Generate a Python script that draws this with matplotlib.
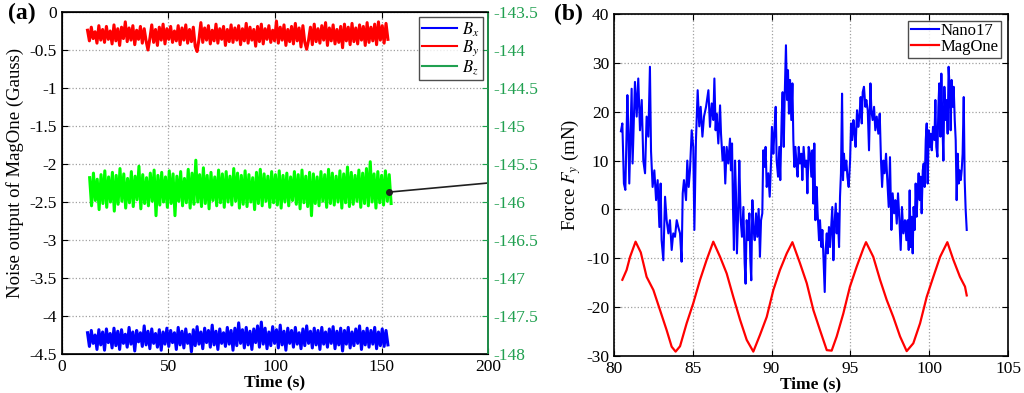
import numpy as np
import matplotlib.pyplot as plt
from matplotlib.lines import Line2D

# ---- panel (a): noise output of MagOne (Gauss), sampled uniformly in time
noise_start = 12.0
noise_end = 153.0
bz_start = 13.0
bz_end = 154.5

bx = [-4.22, -4.40, -4.19, -4.36, -4.25, -4.44, -4.18, -4.38, -4.21, -4.45, -4.17, -4.35, -4.23, -4.42, -4.16, -4.39, -4.20, -4.44, -4.18, -4.36,
      -4.24, -4.41, -4.15, -4.37, -4.21, -4.46, -4.19, -4.34, -4.22, -4.40, -4.13, -4.38, -4.20, -4.43, -4.17, -4.36, -4.23, -4.41, -4.18, -4.45,
      -4.21, -4.37, -4.16, -4.40, -4.19, -4.35, -4.22, -4.44, -4.15, -4.38, -4.20, -4.42, -4.17, -4.36, -4.24, -4.47, -4.18, -4.39, -4.14, -4.37,
      -4.21, -4.43, -4.16, -4.35, -4.19, -4.41, -4.12, -4.38, -4.20, -4.44, -4.17, -4.36, -4.22, -4.40, -4.15, -4.37, -4.19, -4.45, -4.16, -4.39,
      -4.09, -4.36, -4.18, -4.42, -4.15, -4.38, -4.20, -4.44, -4.17, -4.35, -4.13, -4.41, -4.08, -4.37, -4.16, -4.43, -4.21, -4.39, -4.14, -4.36,
      -4.18, -4.42, -4.12, -4.38, -4.20, -4.45, -4.16, -4.36, -4.19, -4.41, -4.15, -4.37, -4.22, -4.43, -4.17, -4.39, -4.13, -4.36, -4.20, -4.42,
      -4.16, -4.38, -4.19, -4.44, -4.15, -4.37, -4.21, -4.41, -4.17, -4.36, -4.14, -4.43, -4.20, -4.38, -4.16, -4.46, -4.19, -4.37, -4.15, -4.42,
      -4.21, -4.39, -4.17, -4.36, -4.13, -4.44, -4.20, -4.38, -4.16, -4.41, -4.19, -4.37, -4.15, -4.43, -4.21, -4.39, -4.17, -4.40, -4.19, -4.38]

by = [-0.24, -0.38, -0.20, -0.35, -0.26, -0.41, -0.18, -0.37, -0.23, -0.40, -0.19, -0.36, -0.25, -0.42, -0.17, -0.38, -0.22, -0.44, -0.20, -0.35,
      -0.13, -0.39, -0.21, -0.37, -0.18, -0.43, -0.24, -0.36, -0.19, -0.41, -0.22, -0.38, -0.50, -0.35, -0.17, -0.40, -0.23, -0.44, -0.20, -0.37,
      -0.16, -0.42, -0.22, -0.36, -0.19, -0.40, -0.25, -0.38, -0.18, -0.43, -0.21, -0.37, -0.17, -0.41, -0.23, -0.39, -0.20, -0.45, -0.52, -0.36,
      -0.14, -0.40, -0.21, -0.37, -0.18, -0.42, -0.24, -0.38, -0.16, -0.41, -0.22, -0.36, -0.19, -0.44, -0.23, -0.39, -0.17, -0.40, -0.21, -0.37,
      -0.18, -0.43, -0.22, -0.38, -0.15, -0.41, -0.20, -0.37, -0.23, -0.45, -0.19, -0.39, -0.16, -0.42, -0.22, -0.36, -0.18, -0.40, -0.24, -0.38,
      -0.12, -0.41, -0.20, -0.37, -0.17, -0.44, -0.23, -0.39, -0.19, -0.42, -0.15, -0.38, -0.21, -0.46, -0.18, -0.40, -0.49, -0.37, -0.20, -0.43,
      -0.16, -0.39, -0.22, -0.41, -0.18, -0.37, -0.14, -0.44, -0.21, -0.38, -0.17, -0.42, -0.23, -0.40, -0.19, -0.47, -0.16, -0.38, -0.20, -0.43,
      -0.15, -0.39, -0.21, -0.42, -0.17, -0.37, -0.19, -0.44, -0.14, -0.40, -0.20, -0.38, -0.16, -0.43, -0.13, -0.37, -0.18, -0.41, -0.15, -0.36]

bz = [-2.18, -2.55, -2.12, -2.48, -2.20, -2.60, -2.14, -2.52, -2.09, -2.57, -2.17, -2.50, -2.11, -2.62, -2.15, -2.53, -2.06, -2.49, -2.13, -2.58,
      -2.19, -2.51, -2.10, -2.56, -2.16, -2.47, -2.03, -2.59, -2.14, -2.52, -2.18, -2.55, -2.12, -2.49, -2.08, -2.68, -2.15, -2.54, -2.11, -2.50,
      -2.17, -2.57, -2.09, -2.52, -2.13, -2.68, -2.16, -2.49, -2.10, -2.55, -2.19, -2.51, -2.07, -2.58, -2.12, -2.53, -1.95, -2.50, -2.14, -2.56,
      -2.05, -2.52, -2.15, -2.59, -2.11, -2.48, -2.17, -2.55, -2.08, -2.51, -2.13, -2.57, -2.10, -2.50, -2.16, -2.54, -2.06, -2.49, -2.12, -2.58,
      -2.15, -2.53, -2.09, -2.56, -2.14, -2.50, -2.18, -2.60, -2.11, -2.52, -2.07, -2.55, -2.13, -2.49, -2.16, -2.57, -2.10, -2.51, -2.14, -2.54,
      -2.09, -2.58, -2.15, -2.50, -2.12, -2.55, -2.17, -2.48, -2.10, -2.53, -2.14, -2.59, -2.08, -2.51, -2.16, -2.56, -2.11, -2.68, -2.13, -2.52,
      -2.17, -2.55, -2.10, -2.49, -2.14, -2.57, -2.07, -2.52, -2.12, -2.54, -2.16, -2.50, -2.09, -2.58, -2.13, -2.51, -2.04, -2.56, -2.11, -2.53,
      -2.15, -2.49, -2.08, -2.57, -2.12, -2.52, -2.06, -2.55, -1.97, -2.50, -2.13, -2.58, -2.10, -2.51, -2.15, -2.54, -2.09, -2.49, -2.14, -2.52]

# Bz end point marker and where it reads on the right-hand (true value) axis
bz_mark = (153.5, -2.37)
bz_true_level = -145.75
bz_offset = -143.5  # right axis value at left axis 0

# ---- panel (b): force Fy (mN)
nano_t = [80.44, 80.53, 80.63, 80.72, 80.85, 80.91, 80.97, 81.12, 81.18, 81.33, 81.44, 81.54, 81.65, 81.76, 81.86, 81.97, 82.07, 82.18, 82.28, 82.35,
          82.45, 82.56, 82.67, 82.77, 82.88, 82.96, 83.02, 83.13, 83.24, 83.34, 83.45, 83.55, 83.66, 83.76, 83.87, 83.98, 84.08, 84.19, 84.29, 84.36,
          84.44, 84.57, 84.65, 84.74, 84.82, 84.93, 85.03, 85.10, 85.20, 85.31, 85.41, 85.50, 85.61, 85.71, 85.84, 85.99,
          86.09, 86.20, 86.30, 86.37, 86.45, 86.51, 86.62, 86.73, 86.79, 86.89, 86.98, 87.06, 87.15, 87.25, 87.36, 87.42, 87.49, 87.55, 87.61, 87.68,
          87.74, 87.80, 87.89, 87.95, 88.04, 88.12, 88.21, 88.29, 88.35, 88.42, 88.50, 88.59, 88.65, 88.71, 88.78, 88.84, 88.93, 89.01, 89.09, 89.18,
          89.26, 89.33, 89.41, 89.47, 89.54, 89.62, 89.69, 89.79, 89.88, 89.96, 90.02, 90.11, 90.17, 90.26, 90.32, 90.41, 90.49, 90.55, 90.64, 90.70,
          90.77, 90.83, 90.91, 90.98, 91.04, 91.10, 91.17, 91.25, 91.32, 91.38, 91.44, 91.51, 91.59, 91.65, 91.72, 91.80, 91.89, 91.95, 92.03, 92.12,
          92.20, 92.27, 92.35,
          92.44, 92.52, 92.59, 92.65, 92.71, 92.78, 92.86, 92.92, 93.01, 93.07, 93.16, 93.22, 93.28, 93.37, 93.43, 93.50, 93.56, 93.64, 93.71, 93.79,
          93.85, 93.92, 93.98, 94.07, 94.13, 94.19, 94.28, 94.34, 94.40, 94.47, 94.53, 94.59, 94.66, 94.74, 94.81, 94.89, 94.98, 95.04, 95.12, 95.19,
          95.27, 95.33, 95.42, 95.50, 95.57, 95.65, 95.72, 95.78, 95.86, 95.95, 96.01, 96.10, 96.18, 96.27, 96.33, 96.41, 96.50, 96.58, 96.67, 96.77,
          96.86, 96.94, 97.01, 97.09, 97.17, 97.26, 97.34, 97.43, 97.51, 97.60, 97.68, 97.77, 97.85, 97.94, 98.02, 98.11, 98.19, 98.27, 98.36,
          98.46, 98.55, 98.63, 98.70, 98.76, 98.82, 98.89, 98.95, 99.01, 99.08, 99.14, 99.20, 99.27, 99.33, 99.40, 99.46, 99.52, 99.59, 99.65, 99.71,
          99.78, 99.84, 99.90, 99.97, 100.03, 100.09, 100.16, 100.24, 100.33, 100.39, 100.45, 100.52, 100.58, 100.64, 100.71, 100.77, 100.83, 100.90, 100.96, 101.04,
          101.11, 101.17, 101.23, 101.30, 101.36, 101.42, 101.49, 101.55, 101.62, 101.68, 101.74, 101.81, 101.87, 101.93, 102.00, 102.06, 102.12, 102.19, 102.25, 102.31,
          102.38]
nano_f = [16.0, 17.6, 5.3, 4.0, 23.4, 16.2, 5.3, 24.7, 9.4, 26.1, 19.0, 26.8, 16.2, 22.4, 10.0, 7.4, 19.0, 14.9, 29.2, 11.9,
          4.6, 8.0, 1.9, 6.0, -3.6, 5.3, -6.3, -10.4, 2.6, -2.2, -4.9, -2.2, -8.3, -4.9, -5.6, -2.2, -3.6, -4.9, -10.7, 3.3,
          6.0, 1.9, 10.0, 4.6, 8.0, 16.2, 12.8, -4.2, 14.2, 24.4, 17.0, 21.0, 14.9, 19.0, 21.0, 24.4,
          16.9, 21.7, 18.3, 26.8, 16.2, 19.6, 13.5, 21.3, 15.5, 10.0, 12.8, 5.3, 12.8, 9.4, 14.5, 8.0, 13.5, 0.5, -8.3, 10.0,
          3.3, -9.0, 0.5, 10.0, -2.2, -5.6, 0.5, -11.0, -15.2, -2.2, -6.3, -0.8, -10.4, -14.5, 1.9, -3.6, -6.3, -0.8, -5.6, 0.1,
          -9.7, -2.2, -0.8, 12.1, 8.7, 12.8, 4.6, 7.4, 2.6, 9.4, 16.9, 11.4, 15.5, 21.0, 10.0, 6.7, 12.8, 6.0, 19.0, 24.0,
          12.8, 23.0, 33.6, 22.4, 28.5, 19.6, 26.5, 18.3, 25.8, 14.2, 8.7, 12.8, 8.7, 6.7, 12.8, 9.4, 11.4, 6.0, 12.8, 8.7,
          10.0, 3.3, 12.8,
          11.4, 6.7, 12.1, 1.2, 13.5, -2.2, 4.6, -0.8, -6.3, -2.2, -7.7, -4.2, -9.0, -16.9, -8.3, -4.9, -9.0, -3.6, -7.7, -2.9,
          0.5, -10.4, -3.6, 1.2, -4.9, -0.8, -7.7, 2.6, 7.4, 23.7, 6.0, 11.4, 8.0, 10.0, 6.7, 4.6, 10.0, 17.6, 14.2, 18.3,
          15.5, 12.8, 20.3, 16.9, 19.0, 23.0, 17.6, 24.0, 25.1, 21.0, 22.4, 20.3, 12.1, 25.8, 20.3, 18.3, 21.0, 16.2, 19.0, 15.5,
          19.6, 10.0, 4.6, 10.0, 7.4, 11.4, 6.0, 0.5, 10.7, -4.2, 3.3, -0.8, 1.9, -2.9, 3.3, -2.2, -8.3, 0.5, -4.9,
          -2.2, -6.3, -2.2, -8.3, 3.9, -7.7, -1.5, -9.0, 0.5, -4.2, 5.3, -1.5, 3.9, 7.4, 1.9, 6.7, -0.8, 8.0, 9.4, 4.6,
          14.2, 17.6, 5.3, 16.2, 12.8, 15.5, 12.1, 16.9, 14.2, 22.4, 12.8, 10.8, 21.0, 25.8, 14.9, 27.8, 18.3, 10.0, 25.1, 18.3,
          22.4, 15.5, 29.2, 24.4, 16.2, 26.5, 21.0, 25.1, 18.3, 14.2, 1.9, 11.4, 5.3, 8.0, 6.0, 8.0, 11.4, 23.0, 6.0, 0.1,
          -4.2]

mag_t = [80.53, 80.80, 81.02, 81.37, 81.70, 82.07, 82.50, 82.92, 83.34, 83.66, 83.91, 84.19, 84.61, 85.03, 85.46, 85.88, 86.30,
         86.73, 87.15, 87.57, 88.00, 88.42, 88.84, 89.26, 89.69, 90.11, 90.53, 90.96, 91.32, 91.80, 92.23, 92.65, 93.07, 93.50,
         93.81, 94.13, 94.55, 94.97, 95.40, 95.82, 95.99, 96.45, 96.88, 97.30, 97.72, 98.15, 98.57, 98.99, 99.42, 99.84, 100.26,
         100.69, 101.15, 101.53, 101.95, 102.27, 102.38]
mag_f = [-14.4, -12.4, -9.7, -6.6, -8.8, -13.8, -16.5, -20.6, -24.7, -28.1, -29.1, -28.0, -23.3, -19.2, -14.4, -10.3, -6.6,
         -9.7, -13.1, -17.9, -22.6, -26.7, -29.1, -25.7, -22.0, -16.5, -12.4, -9.0, -6.7, -11.0, -15.1, -20.6, -24.7, -28.8,
         -28.9, -26.0, -21.3, -15.8, -11.7, -8.0, -6.7, -9.7, -14.4, -18.5, -22.0, -26.0, -29.0, -27.4, -23.3, -17.9, -13.8,
         -9.7, -6.7, -10.3, -13.8, -15.8, -17.6]

green = '#20a050'

plt.rcParams['font.family'] = ['Liberation Serif', 'DejaVu Serif']
plt.rcParams['mathtext.fontset'] = 'stix'
plt.rcParams['axes.unicode_minus'] = False

fig = plt.figure(figsize=(10.24, 3.93), dpi=100)

# ---------------- (a)
ax1 = fig.add_axes([0.0605, 0.0992, 0.4161, 0.8703])
t_noise = np.linspace(noise_start, noise_end, len(bx))
t_bz = np.linspace(bz_start, bz_end, len(bz))
ax1.plot(t_noise, bx, color='#0000ff', lw=2.2)
ax1.plot(t_noise, by, color='#ff0000', lw=2.2)
ax1.plot(t_bz, bz, color='#00ff00', lw=2.2)

ax1.set_xlim(0, 200)
ax1.set_ylim(-4.5, 0)
ax1.set_xticks(np.arange(0, 201, 50))
ax1.set_yticks(np.arange(-4.5, 0.01, 0.5))
ax1.set_yticklabels(['%g' % v for v in np.arange(-4.5, 0.01, 0.5)])
ax1.grid(True, linestyle=':', color='#a0a0a0', lw=0.9)
ax1.tick_params(direction='in', top=True, right=False, labelsize=12.5, length=4)
ax1.set_xlabel('Time (s)', fontsize=12.5, fontweight='bold', labelpad=0)
ax1.set_ylabel('Noise output of MagOne (Gauss)', fontsize=13.5)
ax1.yaxis.set_label_coords(-0.088, 0.53)
for s in ax1.spines.values():
    s.set_linewidth(1.2)

ax1b = ax1.twinx()
ax1b.set_ylim(-148, -143.5)
rticks = np.arange(-148, -143.49, 0.5)
ax1b.set_yticks(rticks)
ax1b.set_yticklabels(['%g' % v for v in rticks])
ax1b.tick_params(axis='y', direction='in', colors=green, labelsize=12.5, length=4)
ax1b.spines['right'].set_color(green)
ax1b.spines['right'].set_linewidth(1.2)

# pointer from Bz trace to its true value on the right axis
y_target = bz_true_level - bz_offset
ax1.annotate('', xy=(200, y_target), xytext=bz_mark,
             arrowprops=dict(arrowstyle='-', color='#202020', lw=1.2,
                             shrinkA=0, shrinkB=0), annotation_clip=False)
ax1.plot(bz_mark[0], bz_mark[1], 'o', color='#202020', ms=4, zorder=5)

handles = [Line2D([], [], color='#0000ff', lw=1.5),
           Line2D([], [], color='#ff0000', lw=1.5),
           Line2D([], [], color=green, lw=1.5)]
leg = ax1b.legend(handles, ['$B_x$', '$B_y$', '$B_z$'], loc='upper right',
                  fontsize=12, frameon=True, fancybox=False, edgecolor='#202020',
                  handlelength=2.1, handletextpad=0.3, labelspacing=0.0,
                  borderpad=0.2, borderaxespad=0.3)
leg.get_frame().set_linewidth(1.0)

fig.text(0.008, 0.965, '(a)', fontsize=17, fontweight='bold', va='center')

# ---------------- (b)
ax2 = fig.add_axes([0.5996, 0.0941, 0.3848, 0.8703])
ax2.plot(nano_t, nano_f, color='#0000ff', lw=1.5, label='Nano17')
ax2.plot(mag_t, mag_f, color='#ff0000', lw=1.6, label='MagOne')
ax2.set_xlim(80, 105)
ax2.set_ylim(-30, 40)
ax2.set_xticks(np.arange(80, 106, 5))
ax2.set_yticks(np.arange(-30, 41, 10))
ax2.grid(True, linestyle=':', color='#a0a0a0', lw=0.9)
ax2.tick_params(direction='in', top=True, right=True, labelsize=12.5, length=4)
ax2.set_xlabel('Time (s)', fontsize=12.5, fontweight='bold', labelpad=0)
ax2.set_ylabel('Force $F_y$ (mN)', fontsize=13.5)
ax2.yaxis.set_label_coords(-0.078, 0.53)
for s in ax2.spines.values():
    s.set_linewidth(1.2)
leg2 = ax2.legend(loc='upper right', fontsize=12, frameon=True, fancybox=False,
                  edgecolor='#202020', handlelength=1.7, handletextpad=0.1,
                  labelspacing=0.0, borderpad=0.15, borderaxespad=0.4)
leg2.get_frame().set_linewidth(1.0)

fig.text(0.541, 0.962, '(b)', fontsize=17, fontweight='bold', va='center')

fig.savefig('out.png', dpi=100)
